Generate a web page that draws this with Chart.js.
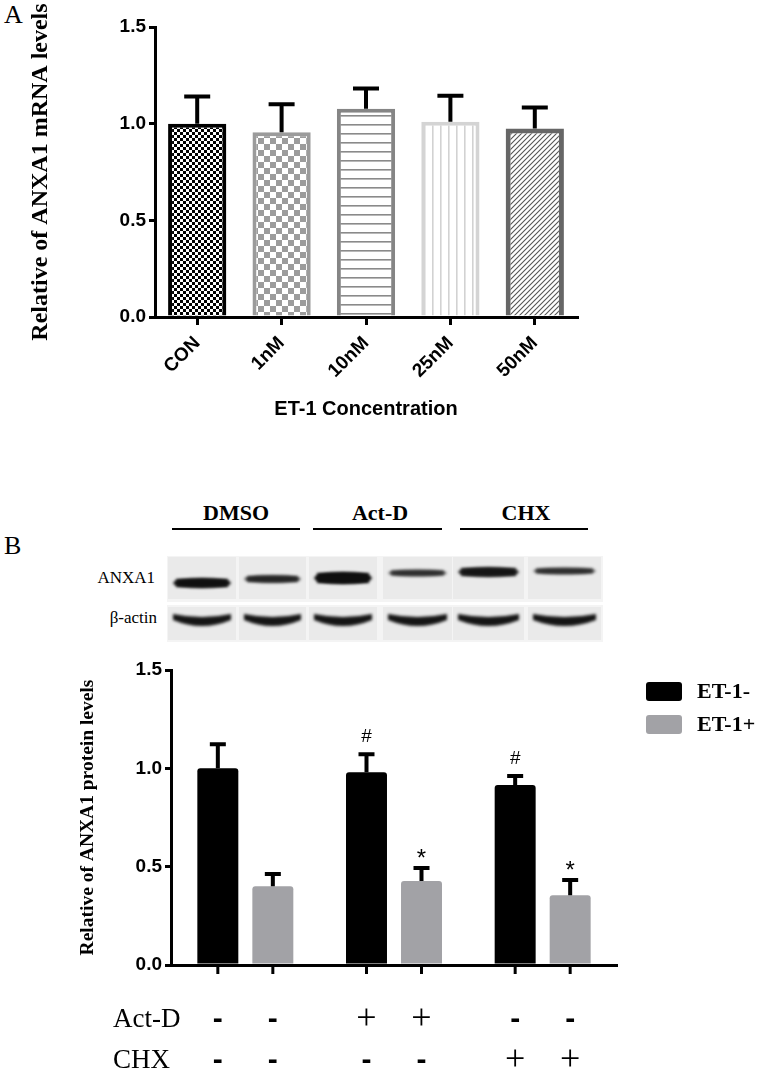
<!DOCTYPE html>
<html>
<head>
<meta charset="utf-8">
<script src="https://cdn.jsdelivr.net/npm/chart.js@4.4.1/dist/chart.umd.min.js"></script>
<style>
  body { margin: 0; background: #fff; width: 764px; height: 1071px; position: relative; overflow: hidden; font-family: 'Liberation Serif', serif; }
  canvas { position: absolute; left: 0; }
  .lbl { position: absolute; color: #000; white-space: nowrap; }
  .hdr { position: absolute; font: bold 22px 'Liberation Serif', serif; line-height: 24px; transform: translateX(-50%); top: 501px; }
  .uline { position: absolute; height: 2px; background: #000; top: 528px; }
</style>
</head>
<body>
<div class="lbl" style="left:4px;top:0px;font-size:26px;line-height:30px">A</div>
<canvas id="chartA" width="764" height="440" style="top:0"></canvas>

<div class="lbl" style="left:4px;top:531px;font-size:26px;line-height:30px">B</div>
<div id="headers"></div>
<div class="lbl" style="right:609px;top:568px;font-size:17px;line-height:20px">ANXA1</div>
<div class="lbl" style="right:607px;top:608px;font-size:17px;line-height:20px">β-actin</div>
<canvas id="blot" width="764" height="105" style="top:545px"></canvas>
<canvas id="chartB" width="764" height="421" style="top:650px"></canvas>

<script>
// ---- panel A data: ANXA1 mRNA vs ET-1 concentration
const concLabels = ["CON", "1nM", "10nM", "25nM", "50nM"];
const mrnaMean = [1.00, 0.955, 1.077, 1.01, 0.975];
const mrnaSem = [0.14, 0.145, 0.105, 0.135, 0.108];

// ---- panel B data: ANXA1 protein
const groupLabels = ["DMSO", "Act-D", "CHX"];
const et1Neg = [1.00, 0.98, 0.915];
const et1NegSem = [0.122, 0.092, 0.046];
const et1Pos = [0.40, 0.427, 0.355];
const et1PosSem = [0.063, 0.066, 0.077];
const negMarks = ["", "#", "#"];
const posMarks = ["", "*", "*"];
// treatment rows, in bar order (ET-1-, ET-1+ for each group)
const actDRow = ["-", "-", "+", "+", "-", "-"];
const chxRow = ["-", "-", "-", "-", "+", "+"];

Chart.defaults.font.family = "'Liberation Sans', Arial, sans-serif";
Chart.defaults.color = "#000";

// pattern fills for panel A bars
function makePattern(size, draw) {
    const c = document.createElement("canvas");
    c.width = c.height = size;
    const g = c.getContext("2d");
    g.fillStyle = "#fff";
    g.fillRect(0, 0, size, size);
    draw(g, size);
    return g.createPattern(c, "repeat");
}

const patternsA = [
    makePattern(6, (g) => { g.fillStyle = "#000"; g.fillRect(0, 0, 3, 3); g.fillRect(3, 3, 3, 3); }),
    makePattern(12, (g) => { g.fillStyle = "#9c9c9c"; g.fillRect(0, 0, 6, 6); g.fillRect(6, 6, 6, 6); }),
    makePattern(9, (g) => { g.fillStyle = "#8a8a8a"; g.fillRect(0, 7, 9, 1.6); }),
    makePattern(8, (g) => { g.fillStyle = "#d2d2d2"; g.fillRect(0, 0, 1.6, 8); }),
    makePattern(5, (g, s) => {
        g.strokeStyle = "#555"; g.lineWidth = 1.1;
        g.beginPath();
        g.moveTo(0, s); g.lineTo(s, 0);
        g.moveTo(-1, 1); g.lineTo(1, -1);
        g.moveTo(s - 1, s + 1); g.lineTo(s + 1, s - 1);
        g.stroke();
    })
];
const bordersA = ["#000", "#9b9b9b", "#858585", "#d4d4d4", "#666"];

// error bars (upper only) + significance marks
const errorBarPlugin = {
    id: "errorBars",
    afterDatasetsDraw(chart, args, opts) {
        const { ctx } = chart;
        const y = chart.scales.y;
        ctx.save();
        ctx.strokeStyle = "#000";
        ctx.lineWidth = opts.lineWidth;
        chart.data.datasets.forEach((ds, di) => {
            const meta = chart.getDatasetMeta(di);
            meta.data.forEach((bar, i) => {
                const top = y.getPixelForValue(ds.data[i] + ds.errors[i]);
                ctx.beginPath();
                ctx.moveTo(bar.x, bar.y);
                ctx.lineTo(bar.x, top);
                ctx.moveTo(bar.x - opts.capWidth / 2, top);
                ctx.lineTo(bar.x + opts.capWidth / 2, top);
                ctx.stroke();
                const m = ds.marks && ds.marks[i];
                if (m) {
                    ctx.fillStyle = "#000";
                    ctx.textAlign = "center";
                    ctx.textBaseline = "alphabetic";
                    if (m === "#") {
                        ctx.font = "19px 'Liberation Sans'";
                        ctx.fillText(m, bar.x, top - 12);
                    } else {
                        ctx.font = "24px 'Liberation Sans'";
                        ctx.fillText(m, bar.x, top - 2);
                    }
                }
            });
        });
        ctx.restore();
    }
};

// ---- chart A
new Chart(document.getElementById("chartA"), {
    type: "bar",
    data: {
        labels: concLabels,
        datasets: [{
            data: mrnaMean,
            errors: mrnaSem,
            backgroundColor: patternsA,
            borderColor: bordersA,
            borderWidth: [4, 4, 4, 4, 5],
            borderSkipped: "start",
            barPercentage: 0.69,
            categoryPercentage: 1
        }]
    },
    options: {
        responsive: false,
        animation: false,
        devicePixelRatio: 1,
        layout: { padding: { left: 26, right: 187, top: 27, bottom: 0 } },
        plugins: {
            legend: { display: false },
            tooltip: { enabled: false },
            errorBars: { capWidth: 26, lineWidth: 4 }
        },
        scales: {
            x: {
                grid: { display: true, offset: false, drawOnChartArea: false, tickLength: 8, lineWidth: 3, color: "#000" },
                border: { display: true, width: 3, color: "#000" },
                ticks: { color: "#000", font: { weight: "bold", size: 19 }, maxRotation: 45, minRotation: 45, padding: 7 },
                title: {
                    display: true, text: "ET-1 Concentration", color: "#000",
                    font: { weight: "bold", size: 20 }, padding: { top: 0, bottom: 19 }
                },
                afterFit: (s) => { s.height = 123; }
            },
            y: {
                min: 0, max: 1.5,
                ticks: { stepSize: 0.5, callback: (v) => v.toFixed(1), color: "#000", font: { weight: "bold", size: 19 }, padding: 3 },
                grid: { drawOnChartArea: false, tickLength: 6, lineWidth: 3, color: "#000" },
                border: { width: 3, color: "#000" },
                title: {
                    display: true, text: "Relative of ANXA1 mRNA levels", color: "#000",
                    font: { family: "'Liberation Serif', serif", weight: "bold", size: 24 }, padding: 0
                },
                afterFit: (s) => { s.width = 129; }
            }
        }
    },
    plugins: [errorBarPlugin]
});

// ---- blot headers
const headerBox = document.getElementById("headers");
const headerCenters = [236, 380, 526];
const headerLines = [[172, 300], [313, 442], [460, 588]];
groupLabels.forEach((t, i) => {
    const d = document.createElement("div");
    d.className = "hdr";
    d.style.left = headerCenters[i] + "px";
    d.textContent = t;
    headerBox.appendChild(d);
    const u = document.createElement("div");
    u.className = "uline";
    u.style.left = headerLines[i][0] + "px";
    u.style.width = (headerLines[i][1] - headerLines[i][0]) + "px";
    headerBox.appendChild(u);
});

// ---- western blot picture (decoration, not data)
(function drawBlot() {
    const g = document.getElementById("blot").getContext("2d");
    g.translate(0, -545);
    const lanes = [[172, 232], [243, 302], [313, 373], [387, 448], [457, 520], [532, 597]];
    const anxaY = [583, 579, 578, 573, 572, 571];
    const anxaT = [8, 6, 10, 5, 8, 5];
    const anxaA = [0.95, 0.7, 1, 0.65, 0.85, 0.65];
    g.fillStyle = "#f4f4f4";
    g.fillRect(167, 556, 436, 46);
    g.fillRect(167, 605, 436, 37);
    g.fillStyle = "#eaeaea";
    lanes.forEach(([a, b]) => {
        g.fillRect(a - 4, 557, b - a + 8, 42);
        g.fillRect(a - 4, 607, b - a + 8, 33);
    });
    g.filter = "blur(1.6px)";
    lanes.forEach(([a, b], i) => {
        g.fillStyle = `rgba(15,15,15,${anxaA[i]})`;
        g.beginPath();
        g.ellipse((a + b) / 2, anxaY[i], (b - a) / 2 - 1, anxaT[i] / 2 + 1, 0, 0, Math.PI * 2);
        g.fill();
        g.fillRect(a + 4, anxaY[i] - anxaT[i] / 2, b - a - 8, anxaT[i]);
        // beta-actin: thick smile-shaped band
        g.fillStyle = "rgba(10,10,10,0.95)";
        g.beginPath();
        g.moveTo(a + 1, 614);
        g.quadraticCurveTo((a + b) / 2, 620, b - 1, 614);
        g.lineTo(b - 1, 620);
        g.quadraticCurveTo((a + b) / 2, 632, a + 1, 620);
        g.closePath();
        g.fill();
    });
    g.filter = "none";
})();

// ---- chart B helpers: bar ticks, treatment rows, legend
function barXs(chart) {
    const xs = [];
    groupLabels.forEach((_, gi) => {
        chart.data.datasets.forEach((ds, di) => xs.push(chart.getDatasetMeta(di).data[gi].x));
    });
    return xs;
}

const protocolPlugin = {
    id: "protocol",
    afterDraw(chart) {
        const { ctx, chartArea } = chart;
        const xs = barXs(chart);
        ctx.save();
        // tick marks under each bar
        ctx.strokeStyle = "#000";
        ctx.lineWidth = 3;
        xs.forEach((x) => {
            ctx.beginPath();
            ctx.moveTo(x, chartArea.bottom);
            ctx.lineTo(x, chartArea.bottom + 9);
            ctx.stroke();
        });
        // Act-D / CHX rows
        const rows = [["Act-D", actDRow, 55], ["CHX", chxRow, 96]];
        ctx.fillStyle = "#000";
        ctx.textBaseline = "middle";
        rows.forEach(([name, signs, dy]) => {
            const y = chartArea.bottom + dy;
            ctx.textAlign = "left";
            ctx.font = "27px 'Liberation Serif'";
            ctx.fillText(name, 113, y);
            ctx.textAlign = "center";
            signs.forEach((s, i) => {
                if (s === "+") {
                    ctx.font = "36px 'Liberation Serif'";
                    ctx.fillText(s, xs[i], y);
                } else {
                    ctx.font = "bold 30px 'Liberation Sans'";
                    ctx.fillText(s, xs[i], y);
                }
            });
        });
        // legend
        ctx.font = "bold 22px 'Liberation Serif'";
        ctx.textAlign = "left";
        chart.data.datasets.forEach((ds, i) => {
            const bx = chartArea.right + 29;
            const by = chartArea.top + 12 + i * 33;
            ctx.fillStyle = ds.backgroundColor;
            ctx.beginPath();
            ctx.roundRect(bx, by, 36, 19, 3);
            ctx.fill();
            ctx.fillStyle = "#000";
            ctx.fillText(ds.label, bx + 51, by + 10);
        });
        ctx.restore();
    }
};

// ---- chart B
new Chart(document.getElementById("chartB"), {
    type: "bar",
    data: {
        labels: groupLabels,
        datasets: [
            { label: "ET-1-", data: et1Neg, errors: et1NegSem, marks: negMarks, backgroundColor: "#000" },
            { label: "ET-1+", data: et1Pos, errors: et1PosSem, marks: posMarks, backgroundColor: "#a2a2a6" }
        ]
    },
    options: {
        responsive: false,
        animation: false,
        devicePixelRatio: 1,
        datasets: { bar: { borderRadius: 3, borderSkipped: "start", categoryPercentage: 0.74, barPercentage: 0.745 } },
        layout: { padding: { left: 76, right: 147, top: 20, bottom: 0 } },
        plugins: {
            legend: { display: false },
            tooltip: { enabled: false },
            errorBars: { capWidth: 16, lineWidth: 4 }
        },
        scales: {
            x: {
                grid: { display: false },
                border: { display: true, width: 3, color: "#000" },
                ticks: { display: false },
                afterFit: (s) => { s.height = 106; }
            },
            y: {
                min: 0, max: 1.5,
                ticks: { stepSize: 0.5, callback: (v) => v.toFixed(1), color: "#000", font: { weight: "bold", size: 19 }, padding: 3 },
                grid: { drawOnChartArea: false, tickLength: 6, lineWidth: 3, color: "#000" },
                border: { width: 3, color: "#000" },
                title: {
                    display: true, text: "Relative of ANXA1 protein levels", color: "#000",
                    font: { family: "'Liberation Serif', serif", weight: "bold", size: 19.5 }, padding: 0
                },
                afterFit: (s) => { s.width = 95; }
            }
        }
    },
    plugins: [errorBarPlugin, protocolPlugin]
});
</script>
</body>
</html>
